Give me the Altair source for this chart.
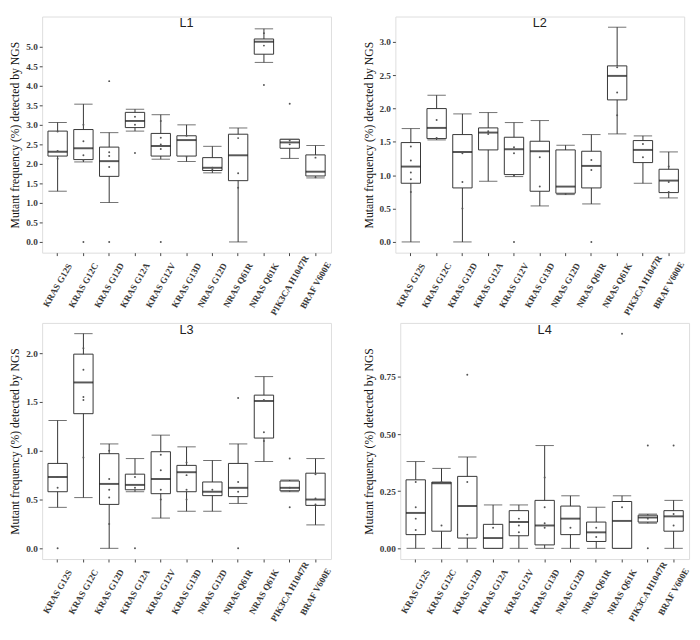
import altair as alt
import pandas as pd

CATS = ["KRAS G12S", "KRAS G12C", "KRAS G12D", "KRAS G12A", "KRAS G12V", "KRAS G13D",
        "NRAS G12D", "NRAS Q61R", "NRAS Q61K", "PIK3CA H1047R", "BRAF V600E"]

# ---- L1 ----
L1_LO = [1.30, 2.05, 1.01, 2.84, 2.12, 2.06, 1.77, 0.00, 4.60, 2.14, 1.64]
L1_Q1 = [2.20, 2.11, 1.68, 2.93, 2.20, 2.20, 1.83, 1.57, 4.81, 2.40, 1.69]
L1_MED = [2.31, 2.40, 2.07, 3.10, 2.46, 2.61, 1.90, 2.22, 5.13, 2.55, 1.80]
L1_Q3 = [2.84, 2.88, 2.43, 3.32, 2.78, 2.72, 2.16, 2.76, 5.20, 2.63, 2.23]
L1_HI = [3.06, 3.53, 2.80, 3.40, 3.26, 3.00, 2.45, 2.92, 5.46, 2.63, 2.47]
L1_PTS = [[2.83, 2.33, 2.13], [3.0, 2.58, 2.22, 2.10, 0.0], [4.12, 2.30, 2.20, 1.92, 0.0],
          [3.21, 3.0, 2.28], [3.1, 2.67, 2.5, 2.38, 0.0], [2.72, 2.18], [1.90, 1.85],
          [2.66, 1.76, 1.39], [5.35, 5.03, 4.02], [3.54, 2.60, 2.50], [2.16, 1.66]]

# ---- L2 ----
L2_LO = [0.00, 1.53, 0.00, 0.91, 0.98, 0.54, 0.71, 0.57, 1.62, 0.88, 0.66]
L2_Q1 = [0.88, 1.55, 0.81, 1.38, 1.01, 0.76, 0.73, 0.81, 2.13, 1.19, 0.74]
L2_MED = [1.13, 1.71, 1.35, 1.64, 1.39, 1.36, 0.83, 1.14, 2.49, 1.38, 0.92]
L2_Q3 = [1.49, 2.00, 1.61, 1.71, 1.57, 1.51, 1.38, 1.36, 2.64, 1.52, 1.09]
L2_HI = [1.70, 2.20, 1.92, 1.94, 1.79, 1.82, 1.45, 1.61, 3.22, 1.59, 1.35]
L2_PTS = [[1.43, 1.22, 1.04, 0.94, 0.75], [1.83, 1.56], [1.33, 0.90, 0.50], [1.66, 1.62],
          [1.42, 1.33, 1.00, 0.0], [1.27, 0.83], [0.72], [1.23, 1.08, 0.0],
          [2.62, 2.24, 1.90], [1.47, 1.27], [1.13, 0.90, 0.75]]

# ---- L3 ----
L3_LO = [0.42, 0.52, 0.00, 0.58, 0.31, 0.38, 0.38, 0.46, 0.89, 0.58, 0.24]
L3_Q1 = [0.58, 1.38, 0.45, 0.60, 0.56, 0.58, 0.54, 0.53, 1.13, 0.59, 0.44]
L3_MED = [0.73, 1.70, 0.66, 0.65, 0.71, 0.78, 0.58, 0.62, 1.51, 0.62, 0.50]
L3_Q3 = [0.87, 1.99, 0.97, 0.76, 0.99, 0.85, 0.68, 0.87, 1.57, 0.69, 0.77]
L3_HI = [1.31, 2.20, 1.07, 0.92, 1.16, 1.04, 0.90, 1.07, 1.76, 0.70, 0.92]
L3_PTS = [[0.73, 0.62, 0.0], [2.05, 1.83, 1.55, 1.52, 0.93], [1.0, 0.71, 0.60, 0.52, 0.25],
          [0.73, 0.62, 0.0], [0.96, 0.80, 0.60, 0.50], [0.88, 0.75, 0.60, 0.50], [0.60],
          [1.54, 0.68, 0.58, 0.0], [1.52, 1.19, 1.10], [0.92, 0.62, 0.42], [0.76, 0.51, 0.45]]

# ---- L4 ----
L4_LO = [0.0, 0.0, 0.0, 0.0, 0.0, 0.0, 0.0, 0.0, 0.0, 0.11, 0.0]
L4_Q1 = [0.06, 0.075, 0.045, 0.0, 0.055, 0.015, 0.06, 0.03, 0.0, 0.115, 0.075]
L4_MED = [0.155, 0.285, 0.185, 0.045, 0.115, 0.10, 0.13, 0.07, 0.12, 0.135, 0.14]
L4_Q3 = [0.30, 0.29, 0.315, 0.105, 0.165, 0.21, 0.185, 0.115, 0.205, 0.145, 0.165]
L4_HI = [0.38, 0.35, 0.40, 0.19, 0.19, 0.45, 0.23, 0.18, 0.23, 0.15, 0.21]
L4_PTS = [[0.29, 0.18, 0.13, 0.08], [0.29, 0.10], [0.76, 0.29, 0.06], [0.09],
          [0.13, 0.10, 0.07], [0.31, 0.18, 0.11, 0.09], [0.09], [0.09, 0.05],
          [0.94, 0.18], [0.45, 0.13, 0.0], [0.45, 0.15, 0.10]]

Y_TITLE = "Mutant frequency (%) detected by NGS"

W, H = 296, 242
STEP = W / 11.2
BAND = STEP * 0.75
SERIF = "Liberation Serif"


def panel(name, lo, q1, med, q3, hi, pts, domain, ticks, fmt):
    df = pd.DataFrame({"cat": CATS, "lo": lo, "q1": q1, "med": med, "q3": q3, "hi": hi})
    pdf = pd.DataFrame([(c, v) for c, vs in zip(CATS, pts) for v in vs], columns=["cat", "v"])

    x = alt.X("cat:N", sort=CATS, title=None,
              scale=alt.Scale(paddingInner=0.25, paddingOuter=0.225),
              axis=alt.Axis(labelAngle=-60, labelAlign="center", labelBaseline="middle",
                            labelFont=SERIF, labelFontWeight="bold", labelFontSize=9.3,
                            labelColor="#3a3a3a", tickSize=3, tickColor="#444",
                            domain=False, labelPadding=30))
    yscale = alt.Scale(domain=domain, nice=False, zero=False)
    yaxis = alt.Axis(values=ticks, format=fmt, labelFont=SERIF, labelFontWeight="bold",
                     labelFontSize=9.5, labelColor="#3a3a3a", tickSize=3, tickColor="#444",
                     domain=False, grid=False, labelPadding=2, titlePadding=4,
                     titleFont=SERIF, titleFontSize=12, titleFontWeight="normal",
                     titleColor="#111")

    def Y(f):
        return alt.Y(f + ":Q", scale=yscale, axis=yaxis, title=Y_TITLE)

    base = alt.Chart(df)
    whisk = base.mark_rule(color="#333", strokeWidth=1).encode(x=x, y=Y("lo"), y2="hi")
    cap_lo = base.mark_tick(color="#333", thickness=1, size=BAND * 0.95).encode(x=x, y=Y("lo"))
    cap_hi = base.mark_tick(color="#333", thickness=1, size=BAND * 0.95).encode(x=x, y=Y("hi"))
    box = base.mark_bar(fill="white", stroke="#333", strokeWidth=1).encode(x=x, y=Y("q1"), y2="q3")
    mline = base.mark_tick(color="#111", thickness=2, size=BAND).encode(x=x, y=Y("med"))
    dots = alt.Chart(pdf).mark_circle(size=4, color="#555", opacity=1).encode(x=x, y=Y("v"))

    return alt.layer(whisk, cap_lo, cap_hi, box, mline, dots).properties(
        width=W, height=H,
        title=alt.TitleParams(name, offset=-14, anchor="middle", font="Liberation Sans",
                              fontSize=13, fontWeight="normal", color="#222"))


p1 = panel("L1", L1_LO, L1_Q1, L1_MED, L1_Q3, L1_HI, L1_PTS, [-0.275, 5.775],
           [0, 0.5, 1, 1.5, 2, 2.5, 3, 3.5, 4, 4.5, 5], ".1f")
p2 = panel("L2", L2_LO, L2_Q1, L2_MED, L2_Q3, L2_HI, L2_PTS, [-0.161, 3.38],
           [0, 0.5, 1, 1.5, 2, 2.5, 3], ".1f")
p3 = panel("L3", L3_LO, L3_Q1, L3_MED, L3_Q3, L3_HI, L3_PTS, [-0.11, 2.31],
           [0, 0.5, 1, 1.5, 2], ".1f")
p4 = panel("L4", L4_LO, L4_Q1, L4_MED, L4_Q3, L4_HI, L4_PTS, [-0.047, 0.987],
           [0, 0.25, 0.5, 0.75], ".2f")

top = alt.hconcat(p1, p2, spacing=28).resolve_scale(y="independent", x="independent")
bottom = alt.hconcat(p3, p4, spacing=28).resolve_scale(y="independent", x="independent")
chart = alt.vconcat(top, bottom, spacing=4).resolve_scale(
    y="independent", x="independent").properties(padding=0).configure_view(
    stroke="#9a9a9a", strokeWidth=1).configure(background="white")

chart.save("out.html", embed_options={"renderer": "svg", "actions": False})
